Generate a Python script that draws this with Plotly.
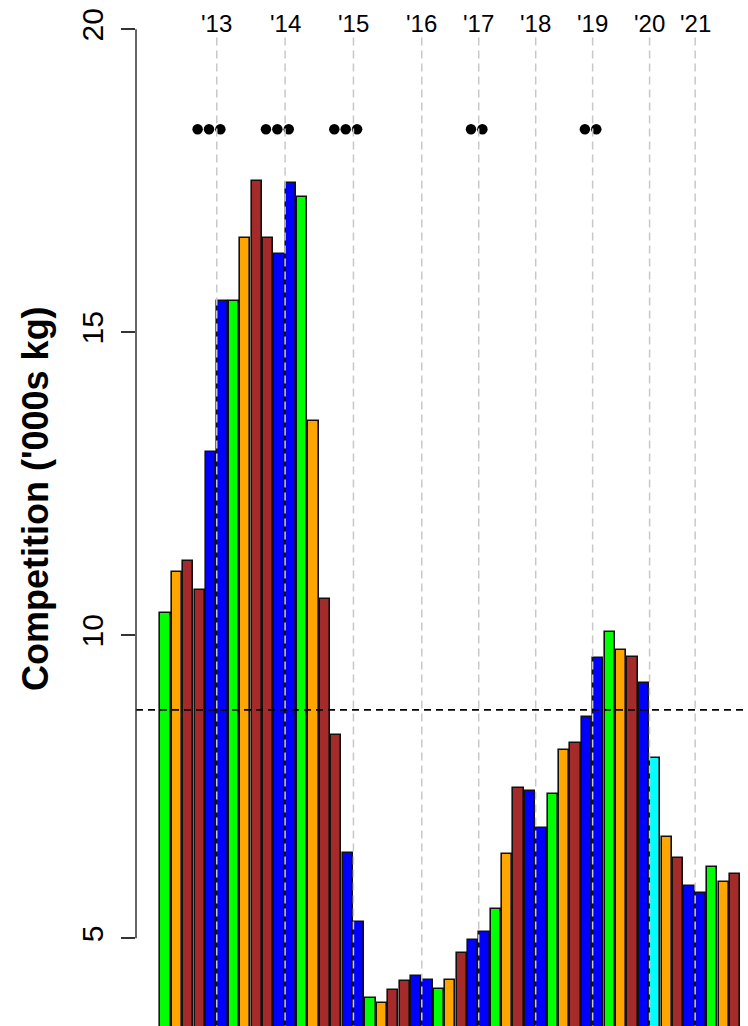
import plotly.graph_objects as go

# ---- data ----
bar_values = [10.37, 11.05, 11.23, 10.75, 13.02, 15.52, 15.52, 16.55, 17.49, 16.55,
              16.30, 17.46, 17.23, 13.54, 10.60, 8.36, 6.40, 5.27, 4.01, 3.93,
              4.15, 4.30, 4.37, 4.32, 4.16, 4.31, 4.75, 4.97, 5.10, 5.48,
              6.39, 7.48, 7.43, 6.82, 7.38, 8.11, 8.23, 8.66, 9.62, 10.05,
              9.75, 9.65, 9.22, 7.98, 6.67, 6.32, 5.86, 5.74, 6.17, 5.93, 6.06]
bar_colors = ["#00FF00", "#FFA500", "#A52A2A", "#A52A2A", "#0000FF", "#0000FF", "#00FF00", "#FFA500", "#A52A2A", "#A52A2A",
              "#0000FF", "#0000FF", "#00FF00", "#FFA500", "#A52A2A", "#A52A2A", "#0000FF", "#0000FF", "#00FF00", "#FFA500",
              "#A52A2A", "#A52A2A", "#0000FF", "#0000FF", "#00FF00", "#FFA500", "#A52A2A", "#0000FF", "#0000FF", "#00FF00",
              "#FFA500", "#A52A2A", "#0000FF", "#0000FF", "#00FF00", "#FFA500", "#A52A2A", "#0000FF", "#0000FF", "#00FF00",
              "#FFA500", "#A52A2A", "#0000FF", "#00FFFF", "#FFA500", "#A52A2A", "#0000FF", "#0000FF", "#00FF00", "#FFA500", "#A52A2A"]
year_labels = ["'13", "'14", "'15", "'16", "'17", "'18", "'19", "'20", "'21"]
year_start_index = [5, 11, 17, 23, 28, 33, 38, 43, 47]
dot_index = [3, 4, 5, 9, 10, 11, 15, 16, 17, 27, 28, 37, 38]
dot_level = 18.35
reference_level = 8.77
y_ticks = [5, 10, 15, 20]
y_title = "Competition ('000s kg)"

FONT = "Liberation Sans, Arial, sans-serif"
x_pos = list(range(len(bar_values)))

fig = go.Figure()
fig.add_trace(go.Bar(
    x=x_pos, y=bar_values, width=0.9,
    marker=dict(color=bar_colors, line=dict(color="#111111", width=1.6)),
    showlegend=False, hoverinfo="y"))

fig.add_trace(go.Scatter(
    x=[i - 0.18 for i in dot_index], y=[dot_level] * len(dot_index),
    mode="markers", marker=dict(color="black", size=10.5),
    showlegend=False, hoverinfo="skip"))

shapes = []
annotations = []
for lab, idx in zip(year_labels, year_start_index):
    shapes.append(dict(type="line", xref="x", yref="y", x0=idx - 0.5, x1=idx - 0.5,
                       y0=3.0, y1=19.87, layer="above",
                       line=dict(color="#C8C8C8", width=1.5, dash="8px,5px")))
    annotations.append(dict(x=idx - 0.5, y=20.1, xref="x", yref="y", text=lab,
                            showarrow=False, xanchor="center", yanchor="middle",
                            font=dict(family=FONT, size=24, color="#000000")))

shapes.append(dict(type="line", xref="paper", yref="y", x0=0, x1=1,
                   y0=reference_level, y1=reference_level, layer="above",
                   line=dict(color="#000000", width=1.8, dash="7px,5px")))
# y axis line from first to last tick (R style)
shapes.append(dict(type="line", xref="paper", yref="y", x0=0, x1=0,
                   y0=min(y_ticks), y1=max(y_ticks), layer="above",
                   line=dict(color="#333333", width=1.5)))

W, H = 748, 1026
L = 136
annotations.append(dict(xref="paper", yref="paper", x=(35 - L) / (W - L), y=1 - 499 / H,
                        text="<b>" + y_title + "</b>",
                        showarrow=False, textangle=-90, xanchor="center", yanchor="middle",
                        font=dict(family=FONT, size=36, color="#000000")))

fig.update_layout(
    width=W, height=H,
    margin=dict(l=L, r=0, t=0, b=0),
    paper_bgcolor="white", plot_bgcolor="white",
    bargap=0,
    xaxis=dict(range=[-2.59, 51.14], showgrid=False, zeroline=False, showticklabels=False,
               ticks="", showline=False),
    yaxis=dict(range=[3.553, 20.483], showgrid=False, zeroline=False, showline=False,
               tickvals=y_ticks, ticktext=[str(v) for v in y_ticks], ticks="outside",
               ticklen=14, tickwidth=1.5, tickcolor="#333333", tickangle=-90,
               ticklabelstandoff=6,
               tickfont=dict(family=FONT, size=30, color="#000000")),
    shapes=shapes, annotations=annotations,
    font=dict(family=FONT),
)

fig.write_html("out.html")
